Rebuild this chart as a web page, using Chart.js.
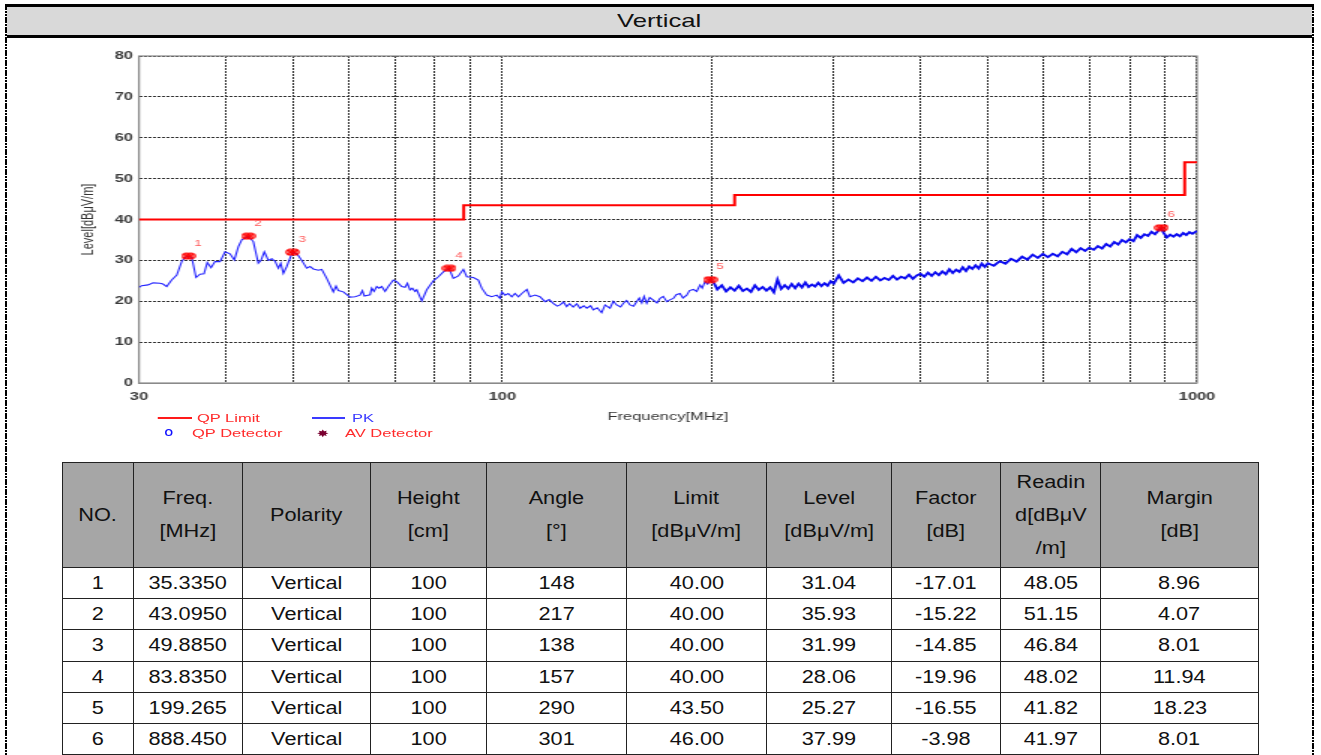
<!DOCTYPE html>
<html>
<head>
<meta charset="utf-8">
<script src="https://cdn.jsdelivr.net/npm/chart.js@4.4.1/dist/chart.umd.min.js"></script>
<style>
html,body{margin:0;padding:0;background:#fff;width:1321px;height:755px;overflow:hidden;font-family:"Liberation Sans",Arial,sans-serif;}
.abs{position:absolute;}
#topbar{left:5px;top:4px;width:1309px;height:3px;background:#000;}
#band{left:7px;top:7px;width:1305px;height:28px;background:#d9d9d9;display:flex;align-items:center;justify-content:center;}
#band span{display:inline-block;transform:scaleX(1.35);font-size:19px;color:#111;}
#bandline{left:5px;top:35px;width:1309px;height:3px;background:#000;}
.vb{top:4px;height:751px;width:2.4px;background:repeating-linear-gradient(to bottom,#000 0,#000 2.6px,#fff 2.6px,#fff 3.3px);}
#wrap{left:0;top:40px;width:880px;height:393px;transform:scaleX(1.5);transform-origin:0 0;}
#wrap canvas{position:absolute;left:0;top:0;width:880px;height:393px;}
.lgt{position:absolute;font-size:11px;line-height:13px;height:13px;white-space:nowrap;}
.lgl{position:absolute;height:2px;}
#tbl{position:absolute;left:62px;top:462px;border-collapse:collapse;table-layout:fixed;width:1196px;}
#tbl td,#tbl th{border:1.5px solid #222;padding:0;text-align:center;font-size:17.5px;color:#111;font-weight:normal;white-space:nowrap;overflow:hidden;}
#tbl th{background:#a6a6a6;height:104px;line-height:33px;}
#tbl td{height:30.2px;line-height:30px;}
#tbl span{display:inline-block;transform:scaleX(1.24);}
</style>
</head>
<body>
<div id="topbar" class="abs"></div>
<div id="band" class="abs"><span>Vertical</span></div>
<div id="bandline" class="abs"></div>
<div class="abs vb" style="left:5px"></div>
<div class="abs vb" style="left:1311.5px"></div>

<div id="wrap" class="abs">
  <canvas id="c" width="880" height="393"></canvas>
  <div class="lgl" style="left:105.3px;top:377px;width:22.3px;background:#ff1a1a"></div>
  <div class="lgt" style="left:131.3px;top:371.5px;color:#ff2a2a">QP Limit</div>
  <div class="lgl" style="left:208px;top:377px;width:22px;background:#3a3aff"></div>
  <div class="lgt" style="left:234.7px;top:371.5px;color:#3a3aff">PK</div>
  <div style="position:absolute;left:110px;top:389.3px;width:3px;height:5px;border:1.2px solid #1010ff;border-radius:50%"></div>
  <div class="lgt" style="left:128px;top:386.5px;color:#ff2a2a">QP Detector</div>
  <div class="lgt" style="left:211px;top:386.5px;color:#7a0030;font-family:'DejaVu Sans';font-size:10px">✸</div>
  <div class="lgt" style="left:230px;top:386.5px;color:#ff2a2a">AV Detector</div>
</div>

<table id="tbl"></table>

<script>
// ---------------- data ----------------
const xGridTicks = [30, 40, 50, 60, 70, 80, 90, 100, 200, 300, 400, 500, 600, 700, 800, 900, 1000];
const xTickLabels = [30, 100, 1000];

const limitFreqs  = [30, 88, 216, 960, 1000];
const limitLevels = [40, 43.5, 46, 54, 54];

const markerFreqs  = [35.335, 43.095, 49.885, 83.835, 199.265, 888.45];
const markerLevels = [31.04, 35.93, 31.99, 28.06, 25.27, 37.99];
const markerLabels = ['1', '2', '3', '4', '5', '6'];

// PK trace: [frequency MHz, level dBuV/m]
const pkTrace = [
[30,23.4],[30.27,23.8],[30.91,24.0],[31.43,24.5],[32.16,24.4],[32.48,24.2],[32.88,23.6],[33.43,25.2],[34.0,26.4],[34.56,29.7],
[34.94,30.7],[35.335,31.0],[35.73,30.7],[36.24,25.8],[36.72,26.6],[37.21,26.7],[37.62,29.5],[38.09,28.2],[38.59,29.7],[39.24,29.7],
[39.9,32.1],[40.56,31.6],[41.15,30.1],[41.69,33.3],[42.17,35.0],[43.095,35.9],[43.82,34.6],[44.55,29.3],[44.95,30.0],[45.45,32.1],
[46.06,30.0],[46.58,30.4],[47.09,29.8],[47.61,28.1],[47.99,29.3],[48.4,26.8],[48.95,28.5],[49.885,32.0],[50.7,31.5],[51.44,30.0],
[52.3,28.1],[52.88,28.5],[53.46,27.9],[54.35,27.6],[54.97,27.8],[55.89,25.6],[57.13,22.3],[57.64,23.7],[58.08,22.6],[59.05,22.3],
[60.38,21.0],[61.39,21.1],[62.41,21.5],[62.89,22.6],[63.31,21.3],[64.52,21.6],[64.88,23.2],[65.38,22.4],[65.96,23.6],[66.47,23.2],
[67.07,23.6],[67.8,22.4],[68.55,23.6],[69.7,25.2],[70.49,24.8],[71.66,23.6],[72.45,23.4],[73.01,24.4],[73.66,22.8],[74.23,23.2],
[74.89,22.4],[75.32,22.8],[76.58,20.1],[77.86,22.8],[79.58,25.0],[80.91,26.0],[82.26,27.2],[83.835,28.0],[85.03,25.6],[86.45,26.2],
[87.9,27.8],[88.9,26.0],[90.86,25.8],[92.38,25.2],[93.43,23.2],[94.99,21.5],[96.58,21.1],[98.19,21.5],[99.27,20.7],[99.83,22.3],
[100.9,21.5],[102.0,21.9],[103.2,21.1],[104.3,21.9],[105.5,21.1],[106.7,21.9],[108.5,22.9],[109.6,21.1],[111.5,21.5],[113.3,21.1],
[115.2,19.9],[116.8,20.4],[118.4,19.5],[120.0,18.8],[121.1,19.1],[122.5,19.8],[123.8,18.7],[125.0,19.4],[126.5,18.6],[128.0,19.4],
[129.4,18.3],[131.0,18.9],[132.3,18.3],[134.0,18.9],[135.2,17.9],[137.0,18.4],[139.0,17.2],[140.6,19.1],[142.9,18.3],[144.5,20.0],
[146.1,19.1],[148.0,18.6],[149.4,19.5],[151.0,20.2],[152.7,19.1],[154.5,18.8],[156.1,19.9],[157.5,20.8],[158.8,19.6],[160.0,21.2],
[161.4,19.5],[163.0,20.9],[165.0,20.3],[167.0,19.6],[168.7,20.7],[170.5,21.2],[172.5,19.9],[174.5,20.4],[176.3,20.7],[178.0,21.6],
[180.2,21.9],[182.0,20.8],[184.3,21.5],[186.0,22.6],[188.4,22.9],[190.5,22.4],[192.6,24.0],[194.0,23.2],[195.8,24.8],[197.5,24.2],
[199.265,25.3],[201.5,24.6],[204,22.9],[207,23.9],[210,22.4],[213,23.4],[216,22.6],[219,23.8],[222,22.5],[225,23.1],
[228,22.3],[231,23.9],[234,22.8],[237,23.5],[240,22.6],[243,23.4],[246,22.2],[249,25.3],[252,23.0],[255,23.9],
[258,23.1],[261,24.2],[264,23.2],[267,24.3],[270,23.4],[273,24.6],[276,23.5],[279,24.1],[282,23.6],[285,24.5],
[288,23.7],[291,24.4],[294,23.8],[297,24.9],[300,24.3],[305,26.3],[310,24.5],[315,25.3],[320,24.6],[325,25.6],
[330,24.9],[335,25.8],[340,25.0],[345,26.0],[350,25.1],[355,25.7],[360,25.2],[365,26.2],[370,25.3],[375,26.0],
[380,25.6],[385,26.5],[390,25.5],[395,26.3],[400,26.7],[405,26.0],[410,27.0],[415,26.2],[420,27.1],[425,26.4],
[430,27.3],[435,26.6],[440,27.8],[445,26.9],[450,27.7],[455,27.2],[460,28.3],[465,27.4],[470,28.5],[475,27.9],
[480,28.8],[485,28.0],[490,29.2],[495,28.4],[500,29.3],[510,28.7],[520,29.8],[530,29.2],[540,30.4],[550,29.7],
[560,30.9],[570,30.2],[580,31.4],[590,30.6],[600,31.6],[610,30.8],[620,31.6],[630,31.0],[640,32.1],[650,31.5],
[660,32.8],[670,32.0],[680,33.0],[690,32.3],[700,33.1],[710,32.6],[720,33.5],[730,32.9],[740,34.0],[750,33.4],
[760,34.5],[770,33.9],[780,35.0],[790,34.4],[800,35.2],[810,34.7],[820,36.2],[830,35.5],[840,36.4],[850,36.0],
[860,37.0],[870,36.4],[880,37.3],[888.45,37.9],[895,36.8],[905,35.6],[915,36.3],[925,35.8],[935,36.4],[945,35.9],
[955,36.7],[965,36.2],[975,36.9],[985,36.5],[1000,37.2]
];

// table
const tblHeaders = ['NO.', 'Freq.<br>[MHz]', 'Polarity', 'Height<br>[cm]', 'Angle<br>[°]', 'Limit<br>[dBμV/m]', 'Level<br>[dBμV/m]', 'Factor<br>[dB]', 'Readin<br>d[dBμV<br>/m]', 'Margin<br>[dB]'];
const colWidths  = [71, 109, 128, 116, 140, 140, 125, 109, 100, 158];
const tblNo      = ['1', '2', '3', '4', '5', '6'];
const tblFreq    = ['35.3350', '43.0950', '49.8850', '83.8350', '199.265', '888.450'];
const tblPol     = ['Vertical', 'Vertical', 'Vertical', 'Vertical', 'Vertical', 'Vertical'];
const tblHeight  = ['100', '100', '100', '100', '100', '100'];
const tblAngle   = ['148', '217', '138', '157', '290', '301'];
const tblLimit   = ['40.00', '40.00', '40.00', '40.00', '43.50', '46.00'];
const tblLevel   = ['31.04', '35.93', '31.99', '28.06', '25.27', '37.99'];
const tblFactor  = ['-17.01', '-15.22', '-14.85', '-19.96', '-16.55', '-3.98'];
const tblReading = ['48.05', '51.15', '46.84', '48.02', '41.82', '41.97'];
const tblMargin  = ['8.96', '4.07', '8.01', '11.94', '18.23', '8.01'];

// ---------------- table ----------------
(function(){
  const t = document.getElementById('tbl');
  let h = '<colgroup>' + colWidths.map(w => '<col style="width:' + w + 'px">').join('') + '</colgroup>';
  h += '<tr>' + tblHeaders.map(s => '<th><span>' + s + '</span></th>').join('') + '</tr>';
  for (let i = 0; i < tblNo.length; i++) {
    const row = [tblNo[i], tblFreq[i], tblPol[i], tblHeight[i], tblAngle[i], tblLimit[i], tblLevel[i], tblFactor[i], tblReading[i], tblMargin[i]];
    h += '<tr>' + row.map(s => '<td><span>' + s + '</span></td>').join('') + '</tr>';
  }
  t.innerHTML = h;
})();

// ---------------- chart ----------------
const FONT = '"Liberation Sans", Arial, sans-serif';

const markerImg = document.createElement('canvas');
markerImg.width = 10; markerImg.height = 8;
(function(){
  const g = markerImg.getContext('2d');
  g.strokeStyle = '#ff0000'; g.lineWidth = 1.2;
  [3.6, 6.4].forEach(cx => {
    g.beginPath(); g.arc(cx, 4, 2.8, 0, Math.PI * 2); g.stroke();
    g.beginPath(); g.moveTo(cx - 2, 2); g.lineTo(cx + 2, 6); g.moveTo(cx + 2, 2); g.lineTo(cx - 2, 6); g.stroke();
  });
})();

const framePlugin = {
  id: 'frame',
  beforeDatasetsDraw(chart) {
    const a = chart.chartArea, ctx = chart.ctx;
    ctx.save();
    ctx.strokeStyle = '#8a8a8a'; ctx.lineWidth = 1.2;
    ctx.strokeRect(a.left, a.top, a.right - a.left, a.bottom - a.top);
    ctx.restore();
  }
};
const markerLabelPlugin = {
  id: 'mlabels',
  afterDatasetsDraw(chart) {
    const ctx = chart.ctx, x = chart.scales.x, y = chart.scales.y;
    ctx.save();
    ctx.fillStyle = '#ff5c5c';
    ctx.font = '9px ' + FONT;
    ctx.textAlign = 'center'; ctx.textBaseline = 'middle';
    markerFreqs.forEach((f, i) => {
      ctx.fillText(markerLabels[i], x.getPixelForValue(f) + 6.5, y.getPixelForValue(markerLevels[i]) - 13);
    });
    ctx.restore();
  }
};

new Chart(document.getElementById('c'), {
  type: 'line',
  data: {
    datasets: [
      { label: 'Markers', data: markerFreqs.map((f, i) => ({ x: f, y: markerLevels[i] })),
        showLine: false, pointStyle: markerImg, pointRadius: 4, order: 0 },
      { label: 'QP Limit', data: limitFreqs.map((f, i) => ({ x: f, y: limitLevels[i] })),
        borderColor: '#ff0000', borderWidth: 2, stepped: 'before', pointRadius: 0, fill: false, order: 1 },
      { label: 'PK', data: pkTrace.map(p => ({ x: p[0], y: p[1] })),
        borderColor: '#2323ff', borderWidth: 1.1, pointRadius: 0, tension: 0, fill: false, order: 2,
        segment: {
          borderWidth: c => c.p0.parsed.x >= 200 ? 1.9 : 1.1,
          borderColor: c => c.p0.parsed.x >= 200 ? '#0a0af0' : '#2323ff'
        } }
    ]
  },
  options: {
    responsive: false,
    animation: false,
    events: [],
    layout: { padding: { top: 16, right: 82, bottom: 0, left: 0 } },
    plugins: { legend: { display: false }, tooltip: { enabled: false } },
    scales: {
      x: {
        type: 'logarithmic', min: 30, max: 1000,
        afterBuildTicks: s => { s.ticks = xGridTicks.map(v => ({ value: v })); },
        afterFit: s => { s.height = 50; },
        ticks: { autoSkip: false, maxRotation: 0, minRotation: 0, padding: 7, color: '#3c3c3c',
                 font: { family: FONT, size: 11, weight: 'bold' },
                 callback: v => xTickLabels.includes(v) ? String(v) : '' },
        grid: { color: '#303030', lineWidth: 1, drawTicks: false },
        border: { display: true, color: '#8a8a8a', width: 1, dash: [2, 1] },
        title: { display: true, text: 'Frequency[MHz]', color: '#333', font: { family: FONT, size: 11 },
                 padding: { top: 0, bottom: 9.4 } }
      },
      y: {
        min: 0, max: 80,
        afterFit: s => { s.width = 92.67; },
        ticks: { stepSize: 10, padding: 4, color: '#3c3c3c', font: { family: FONT, size: 11, weight: 'bold' } },
        grid: { color: '#303030', lineWidth: 1, drawTicks: false },
        border: { display: true, color: '#8a8a8a', width: 1, dash: [2, 1] },
        title: { display: true, text: 'Level[dBμV/m]', color: '#333', font: { family: FONT, size: 11 },
                 padding: { top: 52, bottom: 0 } }
      }
    }
  },
  plugins: [framePlugin, markerLabelPlugin]
});
</script>
</body>
</html>
